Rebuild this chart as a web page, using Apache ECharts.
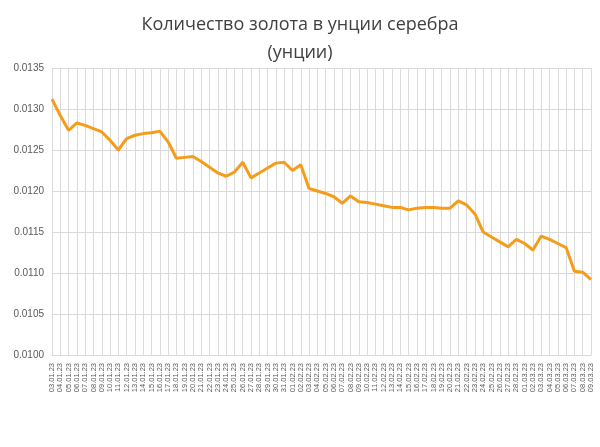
<!DOCTYPE html>
<html>
<head>
<meta charset="utf-8">
<script src="https://cdn.jsdelivr.net/npm/echarts@6/dist/echarts.min.js"></script>
<style>html,body{margin:0;padding:0;background:#fff}#main{width:600px;height:447px}</style>
</head>
<body>
<div id="main"></div>
<script>
// даты: 03.01.23 - 09.03.23, каждый день
var dates = [];
var months = [[1, 3, 31], [2, 1, 28], [3, 1, 9]];
months.forEach(function (m) {
    for (var d = m[1]; d <= m[2]; d++) {
        dates.push((d < 10 ? '0' : '') + d + '.0' + m[0] + '.23');
    }
});

var goldInSilver = [
    0.01312, 0.01292, 0.01274, 0.01283, 0.01280, 0.01276, 0.01272, 0.01262, 0.01250, 0.01264,
    0.01268, 0.01270, 0.01271, 0.01273, 0.01260, 0.01240, 0.01241, 0.01242, 0.01236, 0.01229,
    0.01222, 0.01218, 0.01223, 0.01235, 0.01216, 0.01222, 0.01228, 0.01234, 0.01235, 0.01225,
    0.01232, 0.01203, 0.01200, 0.01197, 0.01193, 0.01185, 0.01194, 0.01187, 0.01186, 0.01184,
    0.01182, 0.01180, 0.01180, 0.01177, 0.01179, 0.01180, 0.01180, 0.01179, 0.01179, 0.01188,
    0.01183, 0.01172, 0.01150, 0.01144, 0.01138, 0.01132, 0.01141, 0.01136, 0.01128, 0.01145,
    0.01141, 0.01136, 0.01131, 0.01102, 0.01101, 0.01092
];

var chart = echarts.init(document.getElementById('main'));
chart.setOption({
    animation: false,
    title: {
        text: 'Количество золота в унции серебра\n(унции)',
        left: 'center',
        top: 6,
        textStyle: {fontFamily: 'Open Sans', fontSize: 18, fontWeight: 'normal', color: '#404040', lineHeight: 28}
    },
    grid: {left: 52, right: 9, top: 68, bottom: 92},
    xAxis: {
        type: 'category',
        data: dates,
        boundaryGap: false,
        axisLine: {lineStyle: {color: '#d9d9d9'}},
        axisTick: {show: false},
        axisLabel: {rotate: 90, interval: 0, fontSize: 7.5, color: '#595959', fontFamily: 'Liberation Sans'},
        splitLine: {show: true, lineStyle: {color: '#d9d9d9'}}
    },
    yAxis: {
        type: 'value',
        min: 0.0100,
        max: 0.0135,
        interval: 0.0005,
        axisLine: {show: false},
        axisTick: {show: false},
        axisLabel: {
            color: '#595959', fontSize: 10, fontFamily: 'Liberation Sans',
            formatter: function (v) { return v.toFixed(4); }
        },
        splitLine: {lineStyle: {color: '#d9d9d9'}}
    },
    series: [{
        type: 'line',
        data: goldInSilver,
        symbol: 'none',
        lineStyle: {color: '#f59c1a', width: 3}
    }]
});
</script>
</body>
</html>
